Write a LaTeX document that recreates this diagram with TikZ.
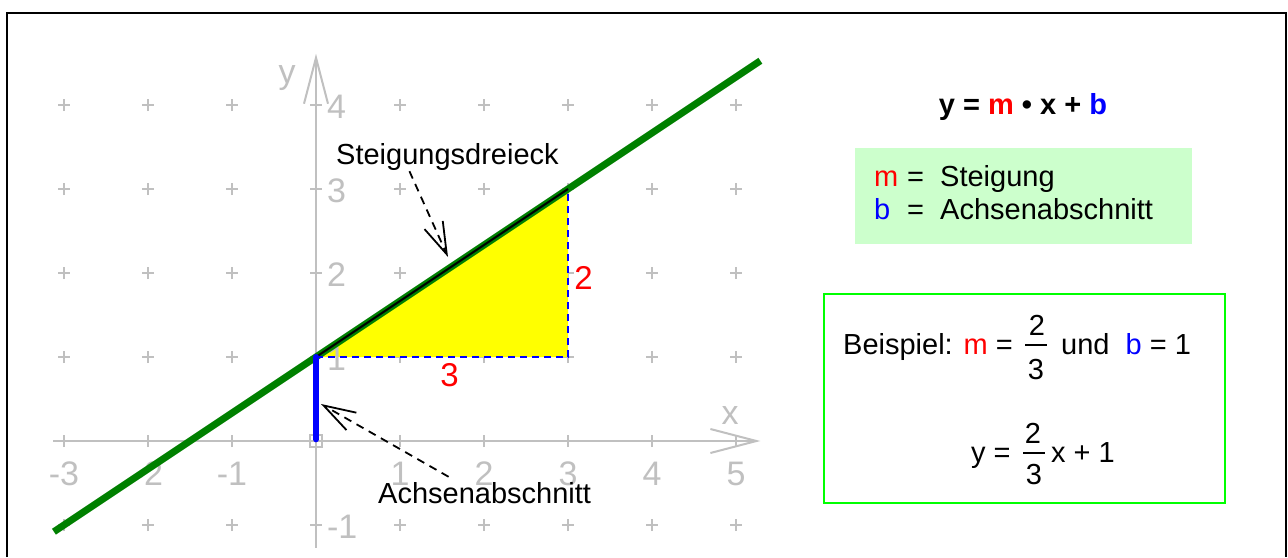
\documentclass[tikz,border=0pt]{standalone}
\usepackage{fontspec}
\setmainfont{Liberation Sans}
\usetikzlibrary{arrows.meta}
\definecolor{axgray}{HTML}{C0C0C0}
\definecolor{lgreen}{HTML}{CCFFCC}
\definecolor{dgreen}{HTML}{008000}
\definecolor{bgreen}{HTML}{00FF00}
\definecolor{myred}{HTML}{FF0000}
\definecolor{myblue}{HTML}{0000FF}
\definecolor{myyellow}{HTML}{FFFF00}
\newcommand{\setfs}[1]{\fontsize{#1}{#1}\selectfont}
\tikzset{
  gridplus/.style={draw=axgray, line width=1.5pt},
  axisline/.style={draw=axgray, line width=2pt, -{Straight Barb[length=46pt,width=24pt]}},
  axlabel/.style={text=axgray, font=\setfs{34}, inner sep=0pt},
  anno/.style={font=\setfs{29}, inner sep=1pt},
  annoarrow/.style={draw=black, line width=1.8pt, dash pattern=on 8pt off 6pt, -{Straight Barb[length=32pt,width=20pt]}},
  bluedash/.style={draw=myblue, line width=2pt, dash pattern=on 7pt off 5pt},
  txt/.style={font=\setfs{29}, inner sep=0pt},
  fracbar/.style={draw=black, line width=1.5pt}
}
\begin{document}
\begin{tikzpicture}[x=1pt,y=-1pt]
\useasboundingbox (0,0) rectangle (1288,557);
\fill[white] (0,0) rectangle (1288,557);
% outer frame
\draw[line width=2.5pt] (7,557) -- (7,13) -- (1286,13) -- (1286,557);

\begin{scope}[shift={(316,441)}, x=84pt, y=84pt]
  % grid plus signs
  \foreach \i in {-3,...,5} {
    \foreach \j in {-1,...,4} {
      \draw[gridplus] (\i,\j) +(-6pt,0) -- +(6pt,0) +(0,-6pt) -- +(0,6pt);
    }
  }
  % axes
  \draw[axisline] (-3.13,0) -- (5.29,0);
  \draw[axisline] (0,-1.27) -- (0,4.61);
  \node[axlabel, font=\setfs{34}] (ylab) at (-0.345,4.32) {y};
  \node[axlabel, font=\setfs{34}] (xlab) at (4.93,0.30) {x};
  % origin square
  \draw[draw=axgray, line width=1.5pt] (-6pt,-6pt) rectangle (6pt,6pt);
  % slope triangle
  \fill[myyellow] (0,1) -- (3,1) -- (3,3) -- cycle;
  % axis numbers
  \foreach \i in {-3,-2,-1,1,2,3,4,5} {
    \node[axlabel, anchor=base] (xn\i) at (\i,-0.524) {\i};
  }
  \foreach \j in {-1,1,2,3,4} {
    \node[axlabel, anchor=west] (yn\j) at (0.13,\j-0.02) {\j};
  }
  % graph line
  \draw[dgreen, line width=7pt] (-3.12,-1.08) -- (5.29,4.527);
  % triangle edges
  \draw[bluedash] (0,1) -- (3,1) -- (3,3);
  \draw[black, line width=2pt] (0,1) -- (3,3);
  % intercept
  \draw[myblue, line width=6pt, line cap=round] (0,0.02) -- (0,1);
  % red labels
  \node[text=myred, font=\setfs{33}, inner sep=0pt] (lab3) at (1.589,0.786) {3};
  \node[text=myred, font=\setfs{33}, inner sep=0pt] (lab2) at (3.185,1.946) {2};
\end{scope}

% annotations
\node[anno, anchor=base west] (sd) at (335,164) {Steigungsdreieck};
\coordinate (sdtip) at (448,257);
\draw[annoarrow] ([xshift=-38pt]sd.south) -- (sdtip);

\node[anno, anchor=base west] (ab) at (377,503) {Achsenabschnitt};
\coordinate (abtip) at (321,404);
\draw[annoarrow] ([xshift=-36pt,yshift=4pt]ab.north) -- (abtip);

% right side: formula
\node[txt, anchor=base, font=\bfseries\setfs{29}] (title) at (1023,114)
  {y = {\color{myred}m} • x + {\color{myblue}b}};

% definition box
\node[fill=lgreen, minimum width=337pt, minimum height=96pt, inner sep=0pt, anchor=north west] (defbox) at (855,148) {};
\node[txt, anchor=base west] (defm) at (874,186)
  {\makebox[33pt][l]{\color{myred}m}\makebox[33pt][l]{=}Steigung};
\node[txt, anchor=base west] (defb) at (874,219)
  {\makebox[33pt][l]{\color{myblue}b}\makebox[33pt][l]{=}Achsenabschnitt};

% example box
\node[draw=bgreen, line width=2pt, minimum width=401pt, minimum height=209pt, inner sep=0pt, anchor=north west] (exbox) at (823,293) {};
\node[txt, anchor=base west] (ex1a) at (843,354) {Beispiel: {\color{myred}m} =};
\node[txt, anchor=base] (ex1n) at (1037,335) {2};
\node[txt, anchor=base] (ex1d) at (1036,379) {3};
\draw[fracbar] (1025,345) -- (1047,345);
\node[txt, anchor=base west] (ex1b) at (1061,354) {und\ \ {\color{myblue}b} = 1};

\node[txt, anchor=base west] (ex2a) at (971,462) {y =};
\node[txt, anchor=base] (ex2n) at (1033,443) {2};
\node[txt, anchor=base] (ex2d) at (1034,484) {3};
\draw[fracbar] (1023,453) -- (1045,453);
\node[txt, anchor=base west] (ex2b) at (1051,462) {x + 1};
\end{tikzpicture}
\end{document}
